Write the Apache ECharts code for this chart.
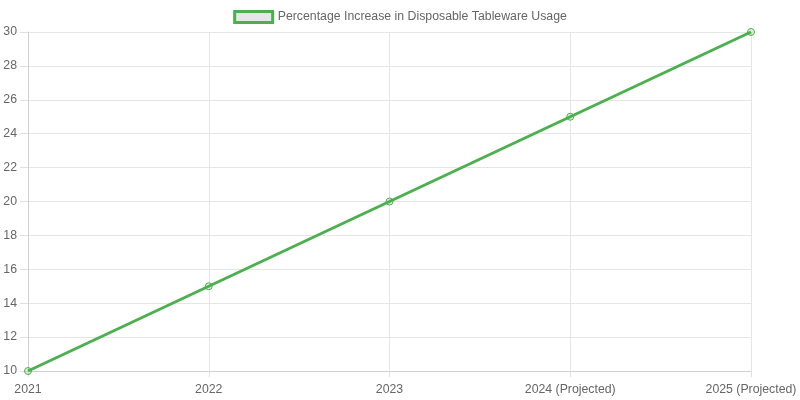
<!DOCTYPE html>
<html>
<head>
<meta charset="utf-8">
<script src="https://cdn.jsdelivr.net/npm/echarts@6/dist/echarts.min.js"></script>
<style>
  html, body { margin: 0; padding: 0; background: #fff; }
  #chart { width: 800px; height: 400px; }
</style>
</head>
<body>
<div id="chart"></div>
<script>
// data
var years = ['2021', '2022', '2023', '2024 (Projected)', '2025 (Projected)'];
var increase = [10, 15, 20, 25, 30];
var seriesName = 'Percentage Increase in Disposable Tableware Usage';

var chart = echarts.init(document.getElementById('chart'));

var option = {
  animation: false,
  textStyle: { fontFamily: '"Liberation Sans", Arial, sans-serif' },
  legend: {
    top: 5,
    left: 'center',
    itemWidth: 38,
    itemHeight: 11,
    itemGap: 8,
    icon: 'rect',
    textStyle: { color: '#666', fontSize: 12.3 },
    itemStyle: { color: '#e6e6e6', borderColor: '#4caf50', borderWidth: 3 },
    data: [seriesName]
  },
  grid: { left: 28, right: 49, top: 32, bottom: 29 },
  xAxis: {
    type: 'category',
    data: years,
    boundaryGap: false,
    axisLine: { lineStyle: { color: '#d0d0d0' } },
    axisTick: { show: true, length: 6, lineStyle: { color: '#e0e0e0' } },
    axisLabel: { color: '#666', fontSize: 12.3, margin: 13 },
    splitLine: { show: true, lineStyle: { color: '#e6e6e6' } }
  },
  yAxis: {
    type: 'value',
    min: 10,
    max: 30,
    interval: 2,
    axisLine: { show: true, lineStyle: { color: '#d0d0d0' } },
    axisTick: { show: true, length: 8, lineStyle: { color: '#e0e0e0' } },
    axisLabel: { color: '#666', fontSize: 12.3, margin: 11 },
    splitLine: { lineStyle: { color: '#e6e6e6' } }
  },
  series: [{
    name: seriesName,
    type: 'line',
    data: increase,
    symbol: 'circle',
    symbolSize: 7,
    lineStyle: { color: '#4caf50', width: 3 },
    itemStyle: { color: 'rgba(76,175,80,0.2)', borderColor: '#4caf50', borderWidth: 1 }
  }]
};

chart.setOption(option);
</script>
</body>
</html>
